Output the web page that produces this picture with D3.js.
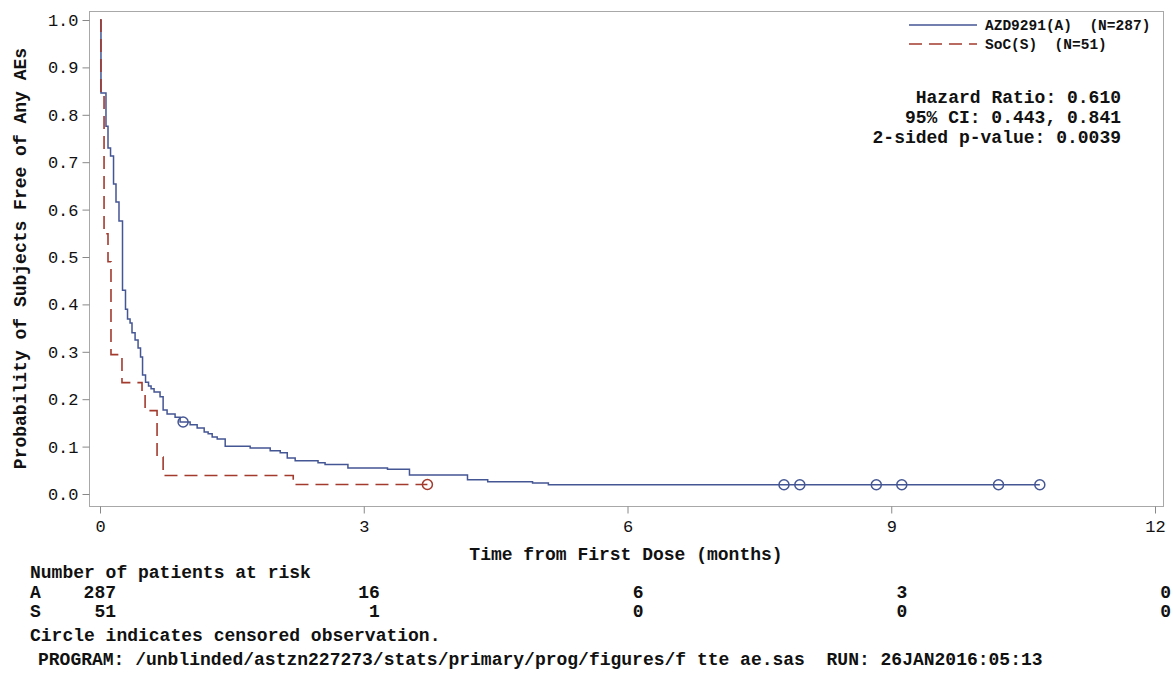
<!DOCTYPE html>
<html>
<head>
<meta charset="utf-8">
<script src="https://cdn.jsdelivr.net/npm/d3@7"></script>
<style>
  html, body { margin: 0; padding: 0; background: #fff; }
  svg text { font-family: "Liberation Mono", "DejaVu Sans Mono", monospace; fill: #111; white-space: pre; }
</style>
</head>
<body>
<svg id="chart" width="1173" height="679"></svg>
<script>
// Kaplan-Meier estimates: time of each event (months) and survival after it
const eventTimesA = [0.011,0.068,0.091,0.120,0.154,0.182,0.216,0.256,0.290,0.313,0.342,0.364,0.399,0.433,0.461,0.484,0.518,0.552,0.581,0.615,0.683,0.718,0.763,0.854,0.911,1.025,1.105,1.185,1.230,1.276,1.333,1.424,1.708,1.936,2.05,2.13,2.22,2.48,2.56,2.82,3.27,3.52,4.18,4.41,4.92,5.10];
const survA = [0.846,0.776,0.730,0.713,0.654,0.616,0.576,0.430,0.390,0.369,0.361,0.340,0.325,0.308,0.289,0.251,0.236,0.228,0.222,0.215,0.205,0.177,0.169,0.162,0.152,0.146,0.139,0.131,0.127,0.120,0.116,0.101,0.097,0.091,0.087,0.076,0.070,0.066,0.062,0.055,0.052,0.040,0.030,0.026,0.023,0.0195];
const censorTimesA = [0.945,7.78,7.96,8.83,9.12,10.22,10.69];
const censorSurvA = [0.152,0.0195,0.0195,0.0195,0.0195,0.0195,0.0195];

const eventTimesS = [0.011,0.046,0.091,0.125,0.250,0.478,0.513,0.649,0.718,2.198];
const survS = [0.843,0.549,0.490,0.294,0.235,0.216,0.176,0.078,0.039,0.020];
const censorTimesS = [3.724];
const censorSurvS = [0.020];

// Axis ticks
const xTicks = [0,3,6,9,12];
const yTicks = [0,0.1,0.2,0.3,0.4,0.5,0.6,0.7,0.8,0.9,1.0];

// Numbers at risk
const riskTimes = [0,3,6,9,12];
const riskA = [287,16,6,3,0];
const riskS = [51,1,0,0,0];

const legendLabels = ["AZD9291(A)  (N=287)", "SoC(S)  (N=51)"];
const statsLines = ["Hazard Ratio: 0.610", "95% CI: 0.443, 0.841", "2-sided p-value: 0.0039"];

const colA = "#445694", colS = "#A23A2E";

const svg = d3.select("#chart");
const frame = {left: 89, right: 1163, top: 11, bottom: 506};

const x = d3.scaleLinear().domain([0,12]).range([100, 1155]);
const y = d3.scaleLinear().domain([0,1]).range([494, 20]);

// plot frame
svg.append("rect")
  .attr("x", frame.left + 0.5).attr("y", frame.top + 0.5)
  .attr("width", frame.right - frame.left).attr("height", frame.bottom - frame.top)
  .attr("fill", "none").attr("stroke", "#a8a8a8").attr("stroke-width", 1);

// y axis
const yAxis = d3.axisLeft(y).tickValues(yTicks).tickFormat(d3.format(".1f")).tickSize(7).tickPadding(4);
const gy = svg.append("g").attr("transform", `translate(${frame.left + 0.5},0)`).call(yAxis);
gy.select(".domain").remove();
gy.selectAll("line").attr("stroke", "#888");
gy.selectAll("text").style("font-size", "17px");

// x axis
const xAxis = d3.axisBottom(x).tickValues(xTicks).tickSize(7).tickPadding(6);
const gx = svg.append("g").attr("transform", `translate(0,${frame.bottom + 0.5})`).call(xAxis);
gx.select(".domain").remove();
gx.selectAll("line").attr("stroke", "#888");
gx.selectAll("text").style("font-size", "17px");

// axis titles
svg.append("text")
  .attr("transform", `translate(26,${(frame.top + frame.bottom) / 2}) rotate(-90)`)
  .attr("text-anchor", "middle").style("font-size", "18px").style("font-weight", "bold")
  .text("Probability of Subjects Free of Any AEs");
svg.append("text")
  .attr("x", (frame.left + frame.right) / 2).attr("y", 560)
  .attr("text-anchor", "middle").style("font-size", "18px").style("font-weight", "bold")
  .text("Time from First Dose (months)");

// step curves
function stepPoints(times, surv, censT) {
  const pts = [[0, 1]];
  times.forEach((t, i) => pts.push([t, surv[i]]));
  const lastT = Math.max(times[times.length - 1], d3.max(censT));
  pts.push([lastT, surv[surv.length - 1]]);
  return pts;
}
const line = d3.line().x(d => x(d[0])).y(d => y(d[1])).curve(d3.curveStepAfter);

svg.append("path").datum(stepPoints(eventTimesA, survA, censorTimesA))
  .attr("d", line).attr("fill", "none").attr("stroke", colA).attr("stroke-width", 1.5);
svg.append("path").datum(stepPoints(eventTimesS, survS, censorTimesS))
  .attr("d", line).attr("fill", "none").attr("stroke", colS).attr("stroke-width", 1.6)
  .attr("stroke-dasharray", "13,7");

// censored observations
svg.append("g").selectAll("circle").data(censorTimesA.map((t, i) => [t, censorSurvA[i]]))
  .join("circle").attr("cx", d => x(d[0])).attr("cy", d => y(d[1])).attr("r", 5)
  .attr("fill", "none").attr("stroke", colA).attr("stroke-width", 1.5);
svg.append("g").selectAll("circle").data(censorTimesS.map((t, i) => [t, censorSurvS[i]]))
  .join("circle").attr("cx", d => x(d[0])).attr("cy", d => y(d[1])).attr("r", 5)
  .attr("fill", "none").attr("stroke", colS).attr("stroke-width", 1.5);

// legend
const leg = svg.append("g");
[[colA, null], [colS, "13,7"]].forEach((c, i) => {
  const ly = 25 + i * 19;
  leg.append("line").attr("x1", 909).attr("x2", 977).attr("y1", ly).attr("y2", ly)
    .attr("stroke", c[0]).attr("stroke-width", 1.5).attr("stroke-dasharray", c[1]);
  leg.append("text").attr("x", 985).attr("y", ly + 5).style("font-size", "14.5px")
    .style("font-weight", "bold").text(legendLabels[i]);
});

// hazard ratio summary
statsLines.forEach((s, i) => {
  svg.append("text").attr("x", 1121).attr("y", 103 + i * 20)
    .attr("text-anchor", "end").style("font-size", "18px").style("font-weight", "bold").text(s);
});

// numbers at risk table
svg.append("text").attr("x", 30).attr("y", 578).style("font-size", "18px").style("font-weight", "bold")
  .text("Number of patients at risk");
[["A", riskA, 598], ["S", riskS, 617]].forEach(r => {
  svg.append("text").attr("x", 30).attr("y", r[2]).style("font-size", "18px").style("font-weight", "bold").text(r[0]);
  svg.append("g").selectAll("text").data(riskTimes)
    .join("text").attr("x", d => x(d) + 16).attr("y", r[2])
    .attr("text-anchor", "end").style("font-size", "18px").style("font-weight", "bold")
    .text((d, i) => r[1][i]);
});

// footnotes
svg.append("text").attr("x", 30).attr("y", 641).style("font-size", "18px").style("font-weight", "bold")
  .text("Circle indicates censored observation.");
svg.append("text").attr("x", 38).attr("y", 665).style("font-size", "18px").style("font-weight", "bold")
  .text("PROGRAM: /unblinded/astzn227273/stats/primary/prog/figures/f tte ae.sas  RUN: 26JAN2016:05:13");
</script>
</body>
</html>
